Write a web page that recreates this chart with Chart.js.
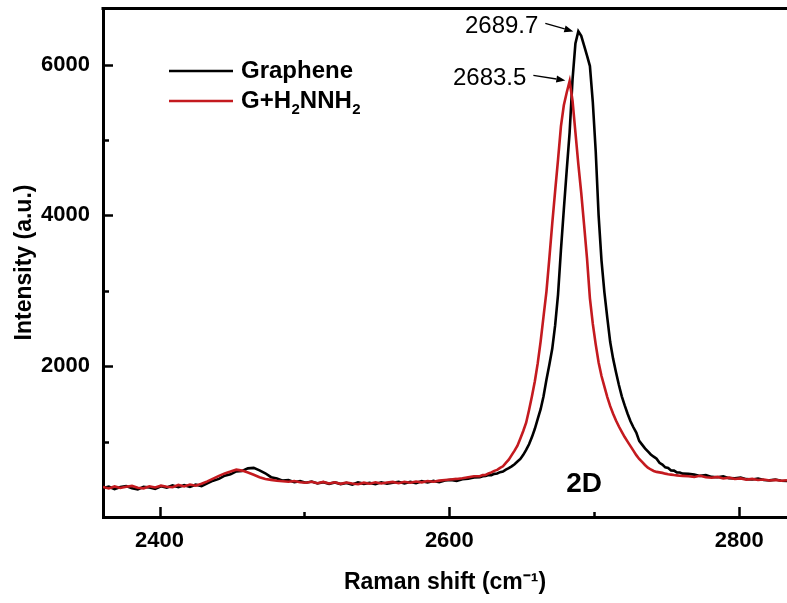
<!DOCTYPE html>
<html><head><meta charset="utf-8">
<script src="https://cdn.jsdelivr.net/npm/chart.js@4"></script>
<style>html,body{margin:0;padding:0;background:#fff;}</style>
</head><body>
<canvas id="c" width="787" height="603"></canvas>
<script>
// Raman shift (cm-1) sample positions
const ramanShift = [
2361,2365,2369,2373,2377,2381,2385,2389,2393,2397,2401,2405,2409,2413,2417,2421,2425,2429,2433,2437,
2441,2445,2449,2453,2457,2461,2465,2469,2473,2477,2481,2485,2489,2493,2497,2501,2505,2509,2513,2517,
2521,2525,2529,2533,2537,2541,2545,2549,2553,2557,2561,2565,2569,2573,2577,2581,2585,2589,2593,2597,
2601,2605,2609,2613,2617,
2621,2623,2625,2627,2629,2631,2633,2635,2637,2639,2641,2643,2645,2647,2649,2651,2653,2655,2657,2659,
2661,2663,2665,2667,2669,2671,2673,2675,2677,2679,2681,2683,2685,2687,2689,2691,2693,2695,2697,2699,
2701,2703,2705,2707,2709,2711,2713,2715,2717,2719,2721,2723,2725,2727,2729,2731,2733,2735,2737,2739,
2741,2743,2745,2747,2749,2751,2753,2755,2757,2759,2761,
2765,2769,2773,2777,2781,2785,2789,2793,2797,2801,2805,2809,2813,2817,2821,2825,2829,2833
];
// Graphene (black)
const grapheneIntensity = [
385,402,370,398,410,380,366,400,392,372,408,390,418,396,422,400,428,410,448,482,
505,548,566,605,610,645,652,618,580,528,510,482,490,462,475,455,470,445,462,440,
458,436,452,430,458,440,452,435,460,442,455,468,445,465,450,475,458,478,462,485,
492,480,502,508,525,
528,540,545,558,556,572,578,595,602,628,648,672,700,735,770,825,890,965,1060,1170,
1300,1430,1600,1820,2020,2230,2540,2950,3540,4080,4600,5100,5800,6280,6440,6380,6250,6120,5980,5500,
4850,4000,3400,2980,2640,2320,2100,1920,1750,1600,1480,1370,1270,1190,1120,1010,960,910,870,830,
800,772,718,695,658,650,618,615,592,590,575,
572,562,545,555,532,528,538,515,512,522,502,498,508,490,486,496,480,478
];
// G+H2NNH2 (red)
const hydrazineIntensity = [
398,378,405,385,400,412,388,380,408,392,415,402,395,425,405,430,415,442,472,508,
545,578,602,628,615,590,560,528,505,492,480,475,468,478,460,455,468,448,465,445,
460,440,458,445,435,455,442,460,445,458,465,448,468,455,470,460,478,468,482,490,
498,505,515,528,540,
541,555,558,578,592,612,625,652,672,718,760,820,880,945,1040,1140,1250,1420,1600,1800,
2040,2330,2660,2990,3430,3890,4320,4740,5180,5460,5630,5780,5520,5100,4680,4300,3870,3430,2900,2560,
2290,2050,1870,1730,1590,1470,1370,1280,1200,1130,1060,1000,940,880,820,770,730,690,655,630,
610,598,592,585,575,568,562,556,552,548,545,
540,530,546,526,520,532,510,522,504,512,496,505,490,498,484,492,480,488
];
const seriesNames = ['Graphene', 'G+H\u2082NNH\u2082'];
const seriesColors = ['#000000', '#c41a1f'];
const peakPositions = [2689.7, 2683.5];
const peakHeights = [6440, 5790];
const peakLabels = ['2689.7', '2683.5'];
const bandLabel = '2D';
const xTickValues = [2400, 2500, 2600, 2700, 2800];
const xLabelTicks = [2400, 2600, 2800];
const yTickValues = [1000, 2000, 3000, 4000, 5000, 6000];
const yLabelTicks = [2000, 4000, 6000];

const FONT = '"Liberation Sans", Arial, Helvetica, sans-serif';
Chart.defaults.font.family = FONT;
Chart.defaults.color = '#000';

const toPoints = ys => ramanShift.map((x, i) => ({x: x, y: ys[i]}));

const framePlugin = {
  id: 'frame',
  afterDraw(chart) {
    const ctx = chart.ctx, ca = chart.chartArea;
    const xs = chart.scales.x, ys = chart.scales.y;
    ctx.save();
    ctx.strokeStyle = '#000';
    // top frame line
    ctx.lineWidth = 3;
    ctx.beginPath();
    ctx.moveTo(ca.left - 1.5, ca.top + 0.5);
    ctx.lineTo(chart.width, ca.top + 0.5);
    ctx.stroke();
    // inward ticks
    ctx.lineWidth = 2.5;
    xs.ticks.forEach(t => {
      const px = Math.round(xs.getPixelForValue(t.value)) + 0.5;
      const len = xLabelTicks.includes(t.value) ? 10 : 5;
      ctx.beginPath(); ctx.moveTo(px, ca.bottom); ctx.lineTo(px, ca.bottom - len); ctx.stroke();
    });
    ys.ticks.forEach(t => {
      const py = Math.round(ys.getPixelForValue(t.value)) + 0.5;
      const len = yLabelTicks.includes(t.value) ? 10 : 6;
      ctx.beginPath(); ctx.moveTo(ca.left, py); ctx.lineTo(ca.left + len, py); ctx.stroke();
    });
    // legend
    const legX0 = 169, legX1 = 233, legTx = 241, legY = [71, 101];
    seriesNames.forEach((name, i) => {
      ctx.strokeStyle = seriesColors[i];
      ctx.lineWidth = 2.5;
      ctx.beginPath(); ctx.moveTo(legX0, legY[i]); ctx.lineTo(legX1, legY[i]); ctx.stroke();
      ctx.fillStyle = '#000';
      ctx.textBaseline = 'middle';
      ctx.textAlign = 'left';
      let x = legTx;
      for (const ch of name) {
        if (ch === '\u2082') {
          ctx.font = 'bold 15px ' + FONT;
          ctx.fillText('2', x + 0.5, legY[i] + 9);
          x += ctx.measureText('2').width + 0.5;
        } else {
          ctx.font = 'bold 24px ' + FONT;
          ctx.fillText(ch, x, legY[i]);
          x += ctx.measureText(ch).width;
        }
      }
    });
    // peak annotations with arrows
    const arrowOff = [[-28, -8], [-32, -5]];
    peakPositions.forEach((p, i) => {
      const tipX = xs.getPixelForValue(p) - (i === 0 ? 6 : 5);
      const tipY = ys.getPixelForValue(peakHeights[i]);
      const sx = tipX + arrowOff[i][0], sy = tipY + arrowOff[i][1];
      ctx.strokeStyle = '#000'; ctx.fillStyle = '#000';
      ctx.lineWidth = 1.3;
      const ang = Math.atan2(tipY - sy, tipX - sx);
      const hl = 9, hw = 3.5;
      const bx = tipX - hl * Math.cos(ang), by = tipY - hl * Math.sin(ang);
      ctx.beginPath(); ctx.moveTo(sx, sy); ctx.lineTo(bx, by); ctx.stroke();
      ctx.beginPath();
      ctx.moveTo(tipX, tipY);
      ctx.lineTo(bx - hw * Math.sin(ang), by + hw * Math.cos(ang));
      ctx.lineTo(bx + hw * Math.sin(ang), by - hw * Math.cos(ang));
      ctx.closePath(); ctx.fill();
      ctx.font = '24px ' + FONT;
      ctx.textAlign = 'right';
      ctx.textBaseline = 'middle';
      ctx.fillText(peakLabels[i], sx - 7, sy + 3);
    });
    // band label
    ctx.font = 'bold 28px ' + FONT;
    ctx.textAlign = 'center';
    ctx.textBaseline = 'middle';
    ctx.fillText(bandLabel, xs.getPixelForValue(2693), ys.getPixelForValue(430));
    ctx.restore();
  }
};

new Chart(document.getElementById('c').getContext('2d'), {
  type: 'line',
  data: {
    datasets: [
      {label: seriesNames[0], data: toPoints(grapheneIntensity), borderColor: seriesColors[0],
       borderWidth: 2.6, pointRadius: 0, tension: 0, order: 1},
      {label: seriesNames[1], data: toPoints(hydrazineIntensity), borderColor: seriesColors[1],
       borderWidth: 2.6, pointRadius: 0, tension: 0, order: 0}
    ]
  },
  options: {
    responsive: false, animation: false, devicePixelRatio: 1,
    layout: {padding: {top: 8, left: 0, right: 0, bottom: 0}},
    plugins: {legend: {display: false}, tooltip: {enabled: false}},
    scales: {
      x: {
        type: 'linear', min: 2361, max: 2833,
        afterBuildTicks(s) { s.ticks = xTickValues.map(v => ({value: v})); },
        ticks: {autoSkip: false, maxRotation: 0, minRotation: 0, padding: 11, color: '#000',
                font: {size: 22, weight: 'bold'},
                callback: v => xLabelTicks.includes(v) ? String(v) : ''},
        grid: {display: true, drawOnChartArea: false, drawTicks: false},
        border: {display: true, color: '#000', width: 3},
        title: {display: true, text: 'Raman shift (cm\u207B\u00B9)', color: '#000',
                font: {size: 23, weight: 'bold'}, padding: {top: 0, bottom: 7}},
        afterFit(s) { s.height = 86; s.paddingLeft = 0; s.paddingRight = 0; }
      },
      y: {
        type: 'linear', min: 0, max: 6750,
        afterBuildTicks(s) { s.ticks = yTickValues.map(v => ({value: v})); },
        ticks: {autoSkip: false, padding: 13, color: '#000',
                font: {size: 22, weight: 'bold'},
                callback: v => yLabelTicks.includes(v) ? String(v) : ''},
        grid: {display: true, drawOnChartArea: false, drawTicks: false},
        border: {display: true, color: '#000', width: 3},
        title: {display: true, text: 'Intensity (a.u.)', color: '#000',
                font: {size: 23, weight: 'bold'}, padding: {top: 11, bottom: 0}},
        afterFit(s) { s.width = 103; s.paddingTop = 0; s.paddingBottom = 0; }
      }
    }
  },
  plugins: [framePlugin]
});
</script>
</body></html>
